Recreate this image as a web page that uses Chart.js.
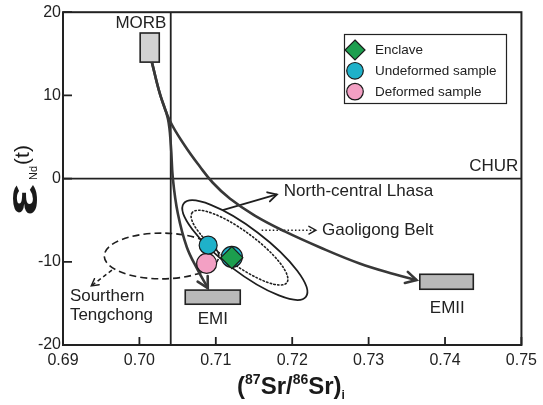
<!DOCTYPE html>
<html>
<head>
<meta charset="utf-8">
<script src="https://cdn.jsdelivr.net/npm/chart.js@4/dist/chart.umd.min.js"></script>
<style>
  html, body { margin: 0; padding: 0; background: #fff; }
  canvas { display: block; }
</style>
</head>
<body>
<canvas id="c" width="543" height="405"></canvas>
<script>
// Axis ticks
const xTicks = [0.69, 0.70, 0.71, 0.72, 0.73, 0.74, 0.75];
const xTickLabels = ['0.69', '0.70', '0.71', '0.72', '0.73', '0.74', '0.75'];
const yTicks = [-20, -10, 0, 10, 20];
const yTickLabels = ['-20', '-10', '0', '10', '20'];

// Samples: (87Sr/86Sr)i vs εNd(t)
const enclave = [{ x: 0.7121, y: -9.5 }];
const undeformed = [{ x: 0.7090, y: -8.0 }, { x: 0.7121, y: -9.4 }];
const deformed = [{ x: 0.7088, y: -10.2 }];

// Mantle end-member fields: [xMin, xMax, yMin, yMax]
const morbField = [0.7001, 0.7026, 14.0, 17.5];
const emiField = [0.7060, 0.7132, -15.1, -13.4];
const emiiField = [0.7367, 0.7437, -13.3, -11.5];

// Reference lines
const churEpsNd = 0;
const bulkEarthSr = 0.7041;

// Mixing trends from MORB towards the enriched mantle end-members
const trendToEMI = [
  { x: 0.70163, y: 14.0 }, { x: 0.70268, y: 10.2 }, { x: 0.70373, y: 7.2 },
  { x: 0.70412, y: 3.95 }, { x: 0.70438, y: 0.0 }, { x: 0.70503, y: -4.2 },
  { x: 0.70621, y: -8.25 }, { x: 0.70765, y: -11.0 }, { x: 0.70895, y: -13.15 }
];
const trendToEMII = [
  { x: 0.70163, y: 14.0 }, { x: 0.70268, y: 10.2 }, { x: 0.70399, y: 6.95 },
  { x: 0.70595, y: 3.95 }, { x: 0.70791, y: 1.45 }, { x: 0.70961, y: -0.5 },
  { x: 0.71183, y: -2.4 }, { x: 0.71510, y: -4.45 }, { x: 0.71902, y: -6.35 },
  { x: 0.72359, y: -8.25 }, { x: 0.72882, y: -10.2 }, { x: 0.73340, y: -11.5 },
  { x: 0.73627, y: -12.2 }
];

// Regional fields: centre and the ends of two conjugate semi-axes
const northCentralLhasa = { c: [0.7138, -8.6], a: [0.7058, -3.0], b: [0.7121, -10.7] };
const gaoligongBelt = { c: [0.7131, -8.3], a: [0.7069, -4.1], b: [0.7118, -9.9] };
const southernTengchong = { c: [0.7029, -9.3], a: [0.7104, -9.3], b: [0.7029, -6.55] };

// Leader arrows from the fields to their names
const lhasaLeader = [{ x: 0.7109, y: -3.8 }, { x: 0.7180, y: -1.9 }];
const gaoligongLeader = [{ x: 0.7160, y: -6.2 }, { x: 0.7231, y: -6.2 }];
const tengchongLeader = [{ x: 0.6964, y: -11.0 }, { x: 0.6937, y: -12.9 }];

const INK = '#222';
const LINE = '#383838';
const FONT = '"Liberation Sans", Arial, sans-serif';

const fields = [
  { box: morbField, fill: '#d2d2d2', label: 'MORB', at: [0.7002, 18.7], align: 'center' },
  { box: emiField, fill: '#b9b9b9', label: 'EMI', at: [0.7096, -16.9], align: 'center' },
  { box: emiiField, fill: '#b9b9b9', label: 'EMII', at: [0.7403, -15.6], align: 'center' }
];
const regions = [
  { e: northCentralLhasa, dash: [], width: 1.8 },
  { e: gaoligongBelt, dash: [1.4, 2.4], width: 1.6 },
  { e: southernTengchong, dash: [7, 4], width: 1.6 }
];
const notes = [
  { text: 'CHUR', at: [0.7496, 1.45], align: 'right' },
  { text: 'North-central Lhasa', at: [0.7189, -1.55], align: 'left' },
  { text: 'Gaoligong Belt', at: [0.7239, -6.2], align: 'left' },
  { text: 'Sourthern', at: [0.6909, -14.1], align: 'left' },
  { text: 'Tengchong', at: [0.6909, -16.4], align: 'left' }
];

function drawHead(ctx, x, y, fx, fy, len, color, width) {
  const ang = Math.atan2(y - fy, x - fx);
  const spread = 0.5;
  ctx.save();
  ctx.setLineDash([]);
  ctx.strokeStyle = color;
  ctx.lineWidth = width;
  ctx.lineCap = 'round';
  ctx.lineJoin = 'miter';
  ctx.beginPath();
  ctx.moveTo(x - len * Math.cos(ang - spread), y - len * Math.sin(ang - spread));
  ctx.lineTo(x, y);
  ctx.lineTo(x - len * Math.cos(ang + spread), y - len * Math.sin(ang + spread));
  ctx.stroke();
  ctx.restore();
}

const diagramPlugin = {
  id: 'diagram',
  beforeDatasetsDraw(chart) {
    const { ctx, chartArea: a, scales: { x, y } } = chart;
    ctx.save();
    // reference lines
    ctx.strokeStyle = INK;
    ctx.lineWidth = 1.8;
    ctx.beginPath();
    ctx.moveTo(a.left, y.getPixelForValue(churEpsNd));
    ctx.lineTo(a.right, y.getPixelForValue(churEpsNd));
    const sx = x.getPixelForValue(bulkEarthSr);
    ctx.moveTo(sx, a.top);
    ctx.lineTo(sx, a.bottom);
    ctx.stroke();

    // end-member boxes
    fields.forEach(f => {
      const x0 = x.getPixelForValue(f.box[0]), x1 = x.getPixelForValue(f.box[1]);
      const y0 = y.getPixelForValue(f.box[3]), y1 = y.getPixelForValue(f.box[2]);
      ctx.fillStyle = f.fill;
      ctx.fillRect(x0, y0, x1 - x0, y1 - y0);
      ctx.strokeStyle = INK;
      ctx.lineWidth = 1.6;
      ctx.strokeRect(x0, y0, x1 - x0, y1 - y0);
    });

    // regional fields as ellipses
    regions.forEach(r => {
      const cx = x.getPixelForValue(r.e.c[0]), cy = y.getPixelForValue(r.e.c[1]);
      const ax = x.getPixelForValue(r.e.a[0]) - cx, ay = y.getPixelForValue(r.e.a[1]) - cy;
      const bx = x.getPixelForValue(r.e.b[0]) - cx, by = y.getPixelForValue(r.e.b[1]) - cy;
      ctx.save();
      ctx.beginPath();
      ctx.save();
      ctx.transform(ax, ay, bx, by, cx, cy);
      ctx.arc(0, 0, 1, 0, Math.PI * 2);
      ctx.restore();
      ctx.setLineDash(r.dash);
      ctx.lineCap = r.dash.length && r.dash[0] < 2 ? 'round' : 'butt';
      ctx.lineWidth = r.width;
      ctx.strokeStyle = '#1e1e1e';
      ctx.stroke();
      ctx.restore();
    });
    ctx.restore();
  },
  afterDatasetsDraw(chart) {
    const { ctx, chartArea: a, scales: { x, y } } = chart;
    // arrow heads on trends and leaders
    chart.data.datasets.forEach((ds, i) => {
      if (!ds.arrowHead) return;
      const pts = chart.getDatasetMeta(i).data;
      const last = pts[pts.length - 1];
      let fx = last.cp1x, fy = last.cp1y;
      if (fx === undefined || (Math.abs(fx - last.x) < 0.5 && Math.abs(fy - last.y) < 0.5)) {
        fx = pts[pts.length - 2].x; fy = pts[pts.length - 2].y;
      }
      drawHead(ctx, last.x, last.y, fx, fy, ds.arrowHead, ds.borderColor, ds.headWidth || ds.borderWidth);
    });

    ctx.save();
    // frame
    ctx.strokeStyle = INK;
    ctx.lineWidth = 2;
    ctx.strokeRect(a.left, a.top, a.right - a.left, a.bottom - a.top);
    // inward tick marks
    ctx.lineWidth = 1.8;
    ctx.beginPath();
    xTicks.forEach(v => {
      const px = x.getPixelForValue(v);
      ctx.moveTo(px, a.bottom);
      ctx.lineTo(px, a.bottom - 8);
    });
    yTicks.forEach(v => {
      const py = y.getPixelForValue(v);
      ctx.moveTo(a.left, py);
      ctx.lineTo(a.left + 9, py);
    });
    ctx.stroke();

    // field names and notes
    ctx.fillStyle = INK;
    ctx.font = '17px ' + FONT;
    ctx.textBaseline = 'middle';
    fields.concat(notes).forEach(n => {
      ctx.textAlign = n.align;
      ctx.fillText(n.label || n.text, x.getPixelForValue(n.at[0]), y.getPixelForValue(n.at[1]));
    });
    ctx.restore();
  },
  afterDraw(chart) {
    const { ctx } = chart;
    ctx.save();
    // legend
    ctx.fillStyle = '#fff';
    ctx.fillRect(344, 34, 162, 69);
    ctx.strokeStyle = INK;
    ctx.lineWidth = 1.2;
    ctx.strokeRect(344.5, 34.5, 162, 69);
    const items = chart.data.datasets.filter(d => d.inLegend);
    items.forEach((d, k) => {
      const cy = 50 + k * 20.8, cx = 355;
      ctx.beginPath();
      if (d.pointStyle === 'rectRot') {
        ctx.moveTo(cx, cy - 10); ctx.lineTo(cx + 10, cy); ctx.lineTo(cx, cy + 10); ctx.lineTo(cx - 10, cy); ctx.closePath();
      } else {
        ctx.arc(cx, cy, 8.3, 0, Math.PI * 2);
      }
      ctx.fillStyle = d.backgroundColor;
      ctx.fill();
      ctx.lineWidth = 1.2;
      ctx.strokeStyle = '#1a1a1a';
      ctx.stroke();
      ctx.fillStyle = INK;
      ctx.font = '13.5px ' + FONT;
      ctx.textAlign = 'left';
      ctx.textBaseline = 'middle';
      ctx.fillText(d.label, 375, cy + 0.5);
    });

    // x axis title: (87Sr/86Sr)i
    const parts = [
      ['(', 24, 0], ['87', 14, -10], ['Sr/', 24, 0], ['86', 14, -10], ['Sr)', 24, 0], ['i', 12, 5]
    ];
    let total = 0;
    parts.forEach(p => { ctx.font = 'bold ' + p[1] + 'px ' + FONT; total += ctx.measureText(p[0]).width; });
    let px = 291 - total / 2;
    ctx.fillStyle = '#1a1a1a';
    ctx.textAlign = 'left';
    ctx.textBaseline = 'alphabetic';
    parts.forEach(p => {
      ctx.font = 'bold ' + p[1] + 'px ' + FONT;
      ctx.fillText(p[0], px, 394 + p[2]);
      px += ctx.measureText(p[0]).width;
    });

    // y axis title: εNd(t)
    ctx.translate(37, 216);
    ctx.rotate(-Math.PI / 2);
    ctx.font = 'bold 44px ' + FONT;
    const ew = ctx.measureText('ε').width;
    ctx.save();
    ctx.scale(32 / ew, 1);
    ctx.fillText('ε', 0, 0);
    ctx.restore();
    ctx.font = '11px ' + FONT;
    ctx.fillText('Nd', 36, 0);
    const nw = ctx.measureText('Nd').width;
    ctx.font = '21px ' + FONT;
    ctx.fillText('(t)', 36 + nw + 1, -8);
    ctx.restore();
  }
};

const pointBorder = '#1a1a1a';

new Chart(document.getElementById('c'), {
  type: 'scatter',
  data: {
    datasets: [
      { label: 'Enclave', data: enclave, inLegend: true, pointStyle: 'rectRot', pointRadius: 11,
        backgroundColor: '#1c9e4e', borderColor: pointBorder, borderWidth: 1.2, order: 0 },
      { label: 'Undeformed sample', data: undeformed, inLegend: true, pointStyle: 'circle', pointRadius: [9, 10.5],
        backgroundColor: '#1fb1c9', borderColor: pointBorder, borderWidth: 1.2, order: 1 },
      { label: 'Deformed sample', data: deformed, inLegend: true, pointStyle: 'circle', pointRadius: 10,
        backgroundColor: '#f3a0c4', borderColor: pointBorder, borderWidth: 1.2, order: 2 },
      { label: 'MORB–EMI', data: trendToEMI, showLine: true, pointRadius: 0, borderColor: LINE, borderWidth: 2.6,
        tension: 0.4, arrowHead: 12, order: 5 },
      { label: 'MORB–EMII', data: trendToEMII, showLine: true, pointRadius: 0, borderColor: LINE, borderWidth: 2.6,
        tension: 0.4, arrowHead: 12, order: 6 },
      { label: 'North-central Lhasa', data: lhasaLeader, showLine: true, pointRadius: 0, borderColor: '#1e1e1e',
        borderWidth: 1.8, arrowHead: 10, order: 7 },
      { label: 'Gaoligong Belt', data: gaoligongLeader, showLine: true, pointRadius: 0, borderColor: '#1e1e1e',
        borderWidth: 1.6, borderDash: [1.5, 2.2], arrowHead: 8, headWidth: 1.4, order: 8 },
      { label: 'Southern Tengchong', data: tengchongLeader, showLine: true, pointRadius: 0, borderColor: '#1e1e1e',
        borderWidth: 1.5, borderDash: [4, 3], arrowHead: 8, headWidth: 1.4, order: 9 }
    ]
  },
  options: {
    responsive: false,
    animation: false,
    events: [],
    layout: { padding: { top: 11, right: 21, left: 0, bottom: 0 } },
    plugins: { legend: { display: false }, tooltip: { enabled: false } },
    scales: {
      x: {
        type: 'linear', min: 0.69, max: 0.75,
        afterBuildTicks: s => { s.ticks = xTicks.map(v => ({ value: v })); },
        afterFit: s => { s.height = 60; },
        ticks: { callback: (v, i) => xTickLabels[i], color: INK, font: { family: FONT, size: 16 }, padding: 6, maxRotation: 0, autoSkip: false },
        grid: { display: false, drawTicks: false },
        border: { display: false }
      },
      y: {
        type: 'linear', min: -20, max: 20,
        afterBuildTicks: s => { s.ticks = yTicks.map(v => ({ value: v })); },
        afterFit: s => { s.width = 63; },
        ticks: { callback: (v, i) => yTickLabels[i], color: INK, font: { family: FONT, size: 16 }, padding: 2, autoSkip: false },
        grid: { display: false, drawTicks: false },
        border: { display: false }
      }
    }
  },
  plugins: [diagramPlugin]
});
</script>
</body>
</html>
